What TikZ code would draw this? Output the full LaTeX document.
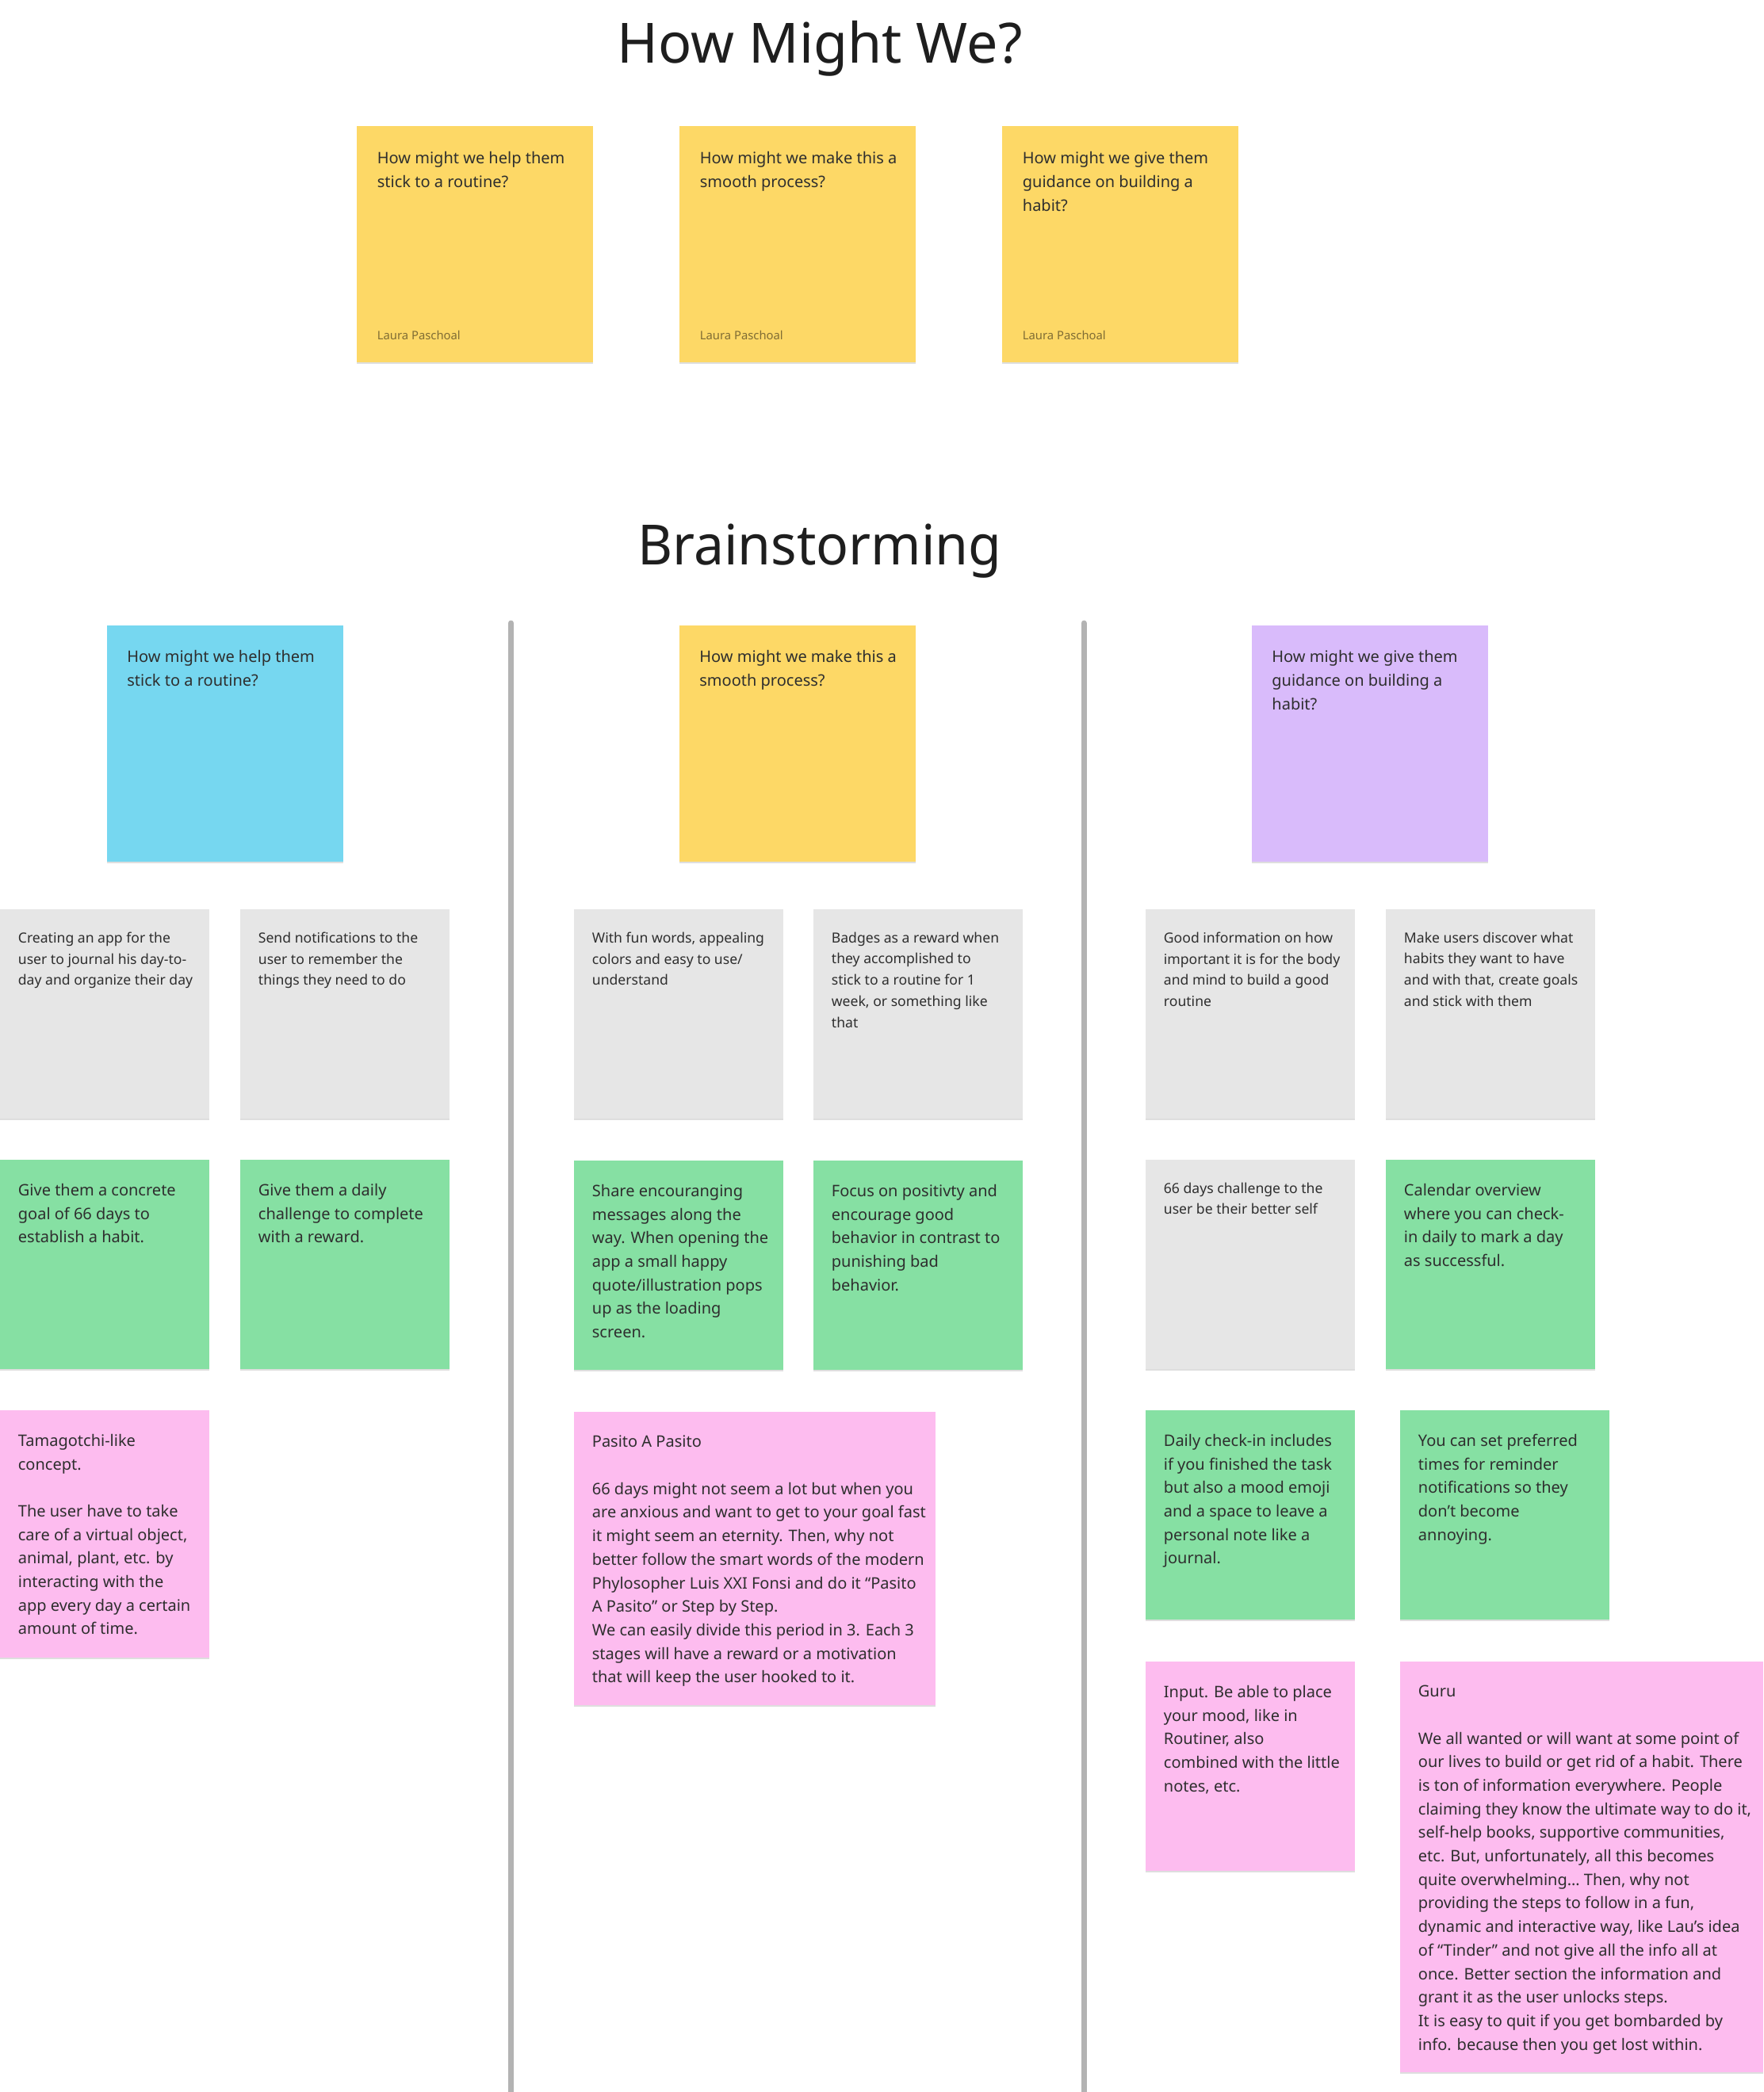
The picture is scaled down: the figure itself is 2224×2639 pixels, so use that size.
\documentclass[tikz,border=0pt]{standalone}
\usepackage{fontspec}
\setmainfont{Noto Sans}
\usetikzlibrary{shadows}
\definecolor{cYellow}{HTML}{FDD866}
\definecolor{cBlue}{HTML}{76D7F0}
\definecolor{cPurple}{HTML}{D9BBFB}
\definecolor{cGray}{HTML}{E6E6E6}
\definecolor{cGreen}{HTML}{86E0A3}
\definecolor{cPink}{HTML}{FDBCEF}
\definecolor{cDivider}{HTML}{B3B3B3}
\definecolor{titleink}{HTML}{1E1E1E}
\definecolor{ink}{HTML}{2E2E2E}
\definecolor{authorink}{HTML}{7F6C34}
\tikzset{
  sticky/.style={fill=#1, draw=none, inner sep=0pt, outer sep=0pt, anchor=north west,
    drop shadow={shadow xshift=0pt, shadow yshift=-1.2pt, opacity=0.13, fill=black}},
  bigsq/.style={minimum width=149pt, minimum height=149pt},
  smsq/.style={minimum width=132pt, minimum height=132pt},
  bigtxt/.style={anchor=north west, inner sep=0pt, align=left, text=ink,
    font=\fontsize{10}{14.85}\selectfont, execute at begin node=\strut},
  smtxt/.style={anchor=north west, inner sep=0pt, align=left, text=ink,
    font=\fontsize{8.8}{13.35}\selectfont, execute at begin node=\strut},
  author/.style={anchor=base west, inner sep=0pt, text=authorink, font=\fontsize{7.4}{9}\selectfont},
  titletxt/.style={anchor=base, inner sep=0pt, text=titleink, font=\fontsize{35}{42}\selectfont},
  divider/.style={draw=cDivider, line width=3.5pt, line cap=round}
}
\begin{document}
\begin{tikzpicture}[x=0.5pt, y=-0.5pt]
\useasboundingbox[fill=white] (0,0) rectangle (2224,2639);

% ---------- Titles ----------
\node[titletxt] (title1) at (1034,79) {How Might We?};
\node[titletxt, xscale=0.97] (title2) at (1034,712) {Brainstorming};

% ---------- How might we notes ----------
\node[sticky=cYellow, bigsq] (hmw1) at (450,159) {};
\node[sticky=cYellow, bigsq] (hmw2) at (857,159) {};
\node[sticky=cYellow, bigsq] (hmw3) at (1264,159) {};
\node[bigtxt] (hmw1t) at ([shift={(25.5,32)}]hmw1.north west) {How might we help them\\stick to a routine?};
\node[bigtxt] (hmw2t) at ([shift={(25.5,32)}]hmw2.north west) {How might we make this a\\smooth process?};
\node[bigtxt] (hmw3t) at ([shift={(25.5,32)}]hmw3.north west) {How might we give them\\guidance on building a\\habit?};
\node[author] (hmw1a) at ([shift={(25.5,269)}]hmw1.north west) {Laura Paschoal};
\node[author] (hmw2a) at ([shift={(25.5,269)}]hmw2.north west) {Laura Paschoal};
\node[author] (hmw3a) at ([shift={(25.5,269)}]hmw3.north west) {Laura Paschoal};

% ---------- Dividers ----------
\coordinate (d1top) at (644.5,786);
\coordinate (d1bot) at (644.5,2660);
\coordinate (d2top) at (1367,786);
\coordinate (d2bot) at (1367,2660);
\draw[divider] (d1top) -- (d1bot);
\draw[divider] (d2top) -- (d2bot);

% ---------- Column headers ----------
\node[sticky=cBlue, bigsq] (h1) at (135,789) {};
\node[sticky=cYellow, bigsq] (h2) at (857,789) {};
\node[sticky=cPurple, bigsq] (h3) at (1579,789) {};
\node[bigtxt] (h1t) at ([shift={(25,31)}]h1.north west) {How might we help them\\stick to a routine?};
\node[bigtxt] (h2t) at ([shift={(25,31)}]h2.north west) {How might we make this a\\smooth process?};
\node[bigtxt] (h3t) at ([shift={(25,31)}]h3.north west) {How might we give them\\guidance on building a\\habit?};

% ---------- Gray row ----------
\node[sticky=cGray, smsq] (g1) at (0,1147) {};
\node[sticky=cGray, smsq] (g2) at (303,1147) {};
\node[sticky=cGray, smsq] (g3) at (724,1147) {};
\node[sticky=cGray, smsq] (g4) at (1026,1147) {};
\node[sticky=cGray, smsq] (g5) at (1445,1147) {};
\node[sticky=cGray, smsq] (g6) at (1748,1147) {};
\node[smtxt] (g1t) at ([shift={(22.5,28.5)}]g1.north west) {Creating an app for the\\user to journal his day-to-\\day and organize their day};
\node[smtxt] (g2t) at ([shift={(22.5,28.5)}]g2.north west) {Send notifications to the\\user to remember the\\things they need to do};
\node[smtxt] (g3t) at ([shift={(22.5,28.5)}]g3.north west) {With fun words, appealing\\colors and easy to use/\\understand};
\node[smtxt] (g4t) at ([shift={(22.5,28.5)}]g4.north west) {Badges as a reward when\\they accomplished to\\stick to a routine for 1\\week, or something like\\that};
\node[smtxt] (g5t) at ([shift={(22.5,28.5)}]g5.north west) {Good information on how\\important it is for the body\\and mind to build a good\\routine};
\node[smtxt] (g6t) at ([shift={(22.5,28.5)}]g6.north west) {Make users discover what\\habits they want to have\\and with that, create goals\\and stick with them};

% ---------- Green row ----------
\node[sticky=cGreen, smsq] (n1) at (0,1463) {};
\node[sticky=cGreen, smsq] (n2) at (303,1463) {};
\node[sticky=cGreen, smsq] (n3) at (724,1464) {};
\node[sticky=cGreen, smsq] (n4) at (1026,1464) {};
\node[sticky=cGray, smsq] (n5) at (1445,1463) {};
\node[sticky=cGreen, smsq] (n6) at (1748,1463) {};
\node[bigtxt] (n1t) at ([shift={(22.5,29.7)}]n1.north west) {Give them a concrete\\goal of 66 days to\\establish a habit.};
\node[bigtxt] (n2t) at ([shift={(22.5,29.7)}]n2.north west) {Give them a daily\\challenge to complete\\with a reward.};
\node[bigtxt] (n3t) at ([shift={(22.5,29.7)}]n3.north west) {Share encouranging\\messages along the\\way. When opening the\\app a small happy\\quote/illustration pops\\up as the loading\\screen.};
\node[bigtxt] (n4t) at ([shift={(22.5,29.7)}]n4.north west) {Focus on positivty and\\encourage good\\behavior in contrast to\\punishing bad\\behavior.};
\node[smtxt] (n5t) at ([shift={(22.5,28.5)}]n5.north west) {66 days challenge to the\\user be their better self};
\node[bigtxt] (n6t) at ([shift={(22.5,29.7)}]n6.north west) {Calendar overview\\where you can check-\\in daily to mark a day\\as successful.};

% ---------- Third row ----------
\node[sticky=cPink, minimum width=132pt, minimum height=156pt] (p1) at (0,1779) {};
\node[sticky=cPink, minimum width=228pt, minimum height=185pt] (p2) at (724,1781) {};
\node[sticky=cGreen, smsq] (p3) at (1445,1779) {};
\node[sticky=cGreen, smsq] (p4) at (1766,1779) {};
\node[bigtxt] (p1t) at ([shift={(22.5,29.7)}]p1.north west) {Tamagotchi-like\\concept.\\[14.85pt]The user have to take\\care of a virtual object,\\animal, plant, etc. by\\interacting with the\\app every day a certain\\amount of time.};
\node[bigtxt] (p2t) at ([shift={(22.5,29.7)}]p2.north west) {Pasito A Pasito\\[14.85pt]66 days might not seem a lot but when you\\are anxious and want to get to your goal fast\\it might seem an eternity. Then, why not\\better follow the smart words of the modern\\Phylosopher Luis XXI Fonsi and do it “Pasito\\A Pasito” or Step by Step.\\We can easily divide this period in 3. Each 3\\stages will have a reward or a motivation\\that will keep the user hooked to it.};
\node[bigtxt] (p3t) at ([shift={(22.5,29.7)}]p3.north west) {Daily check-in includes\\if you finished the task\\but also a mood emoji\\and a space to leave a\\personal note like a\\journal.};
\node[bigtxt] (p4t) at ([shift={(22.5,29.7)}]p4.north west) {You can set preferred\\times for reminder\\notifications so they\\don’t become\\annoying.};

% ---------- Fourth row ----------
\node[sticky=cPink, smsq] (q1) at (1445,2096) {};
\node[sticky=cPink, minimum width=229pt, minimum height=259pt] (q2) at (1766,2096) {};
\node[bigtxt] (q1t) at ([shift={(22.5,29.7)}]q1.north west) {Input. Be able to place\\your mood, like in\\Routiner, also\\combined with the little\\notes, etc.};
\node[bigtxt] (q2t) at ([shift={(22.5,29.7)}]q2.north west) {Guru\\[14.85pt]We all wanted or will want at some point of\\our lives to build or get rid of a habit. There\\is ton of information everywhere. People\\claiming they know the ultimate way to do it,\\self-help books, supportive communities,\\etc. But, unfortunately, all this becomes\\quite overwhelming… Then, why not\\providing the steps to follow in a fun,\\dynamic and interactive way, like Lau’s idea\\of “Tinder” and not give all the info all at\\once. Better section the information and\\grant it as the user unlocks steps.\\It is easy to quit if you get bombarded by\\info. because then you get lost within.};
\end{tikzpicture}
\end{document}
